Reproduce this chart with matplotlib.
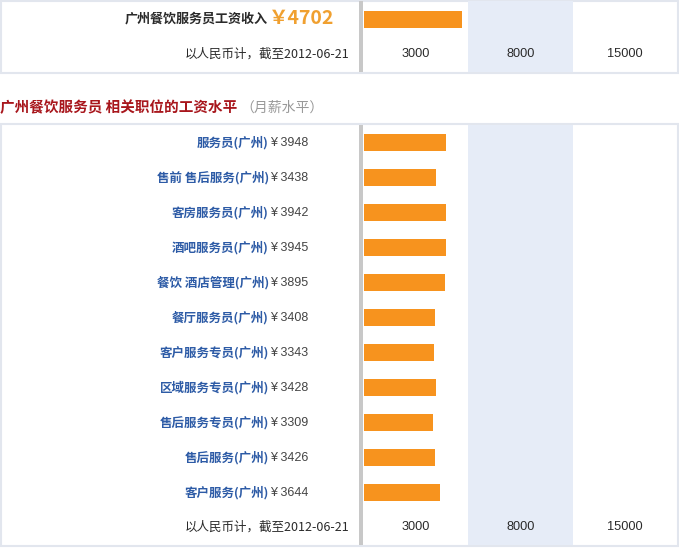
import matplotlib
matplotlib.use("Agg")
import matplotlib.pyplot as plt
from matplotlib.patches import Rectangle
from matplotlib.transforms import blended_transform_factory

plt.rcParams['font.family'] = ['Noto Sans CJK SC', 'DejaVu Sans']

# ---- data ----
main_label = "广州餐饮服务员工资收入"
main_value = 4702
date_note = "以人民币计，截至2012-06-21"
heading = "广州餐饮服务员 相关职位的工资水平"
heading_note = "（月薪水平）"
categories = ["服务员(广州)", "售前 售后服务(广州)", "客房服务员(广州)", "酒吧服务员(广州)",
              "餐饮 酒店管理(广州)", "餐厅服务员(广州)", "客户服务专员(广州)", "区域服务专员(广州)",
              "售后服务专员(广州)", "售后服务(广州)", "客户服务(广州)"]
values = [3948, 3438, 3942, 3945, 3895, 3408, 3343, 3428, 3309, 3426, 3644]
tick_labels = ["3000", "8000", "15000"]
band_edges = [0, 5000, 10000, 15000]

W, H = 679, 549
fig = plt.figure(figsize=(W / 100, H / 100), dpi=100)

ORANGE = "#f7931e"
BLUE = "#2d5ba6"
RED = "#a8161c"
BAND = "#e6ecf7"
BORDER = "#e2e6ee"
SEP = "#c8c8c8"
TXT = "#2a2a2a"


def rect(x0, y0, x1, y1):
    # pixel rect (top-left origin) -> figure fraction
    return [x0 / W, 1 - y1 / H, (x1 - x0) / W, (y1 - y0) / H]


# background axes in pixel coordinates
bg = fig.add_axes([0, 0, 1, 1])
bg.set_xlim(0, W)
bg.set_ylim(H, 0)
bg.axis("off")

# panel borders
bg.add_patch(Rectangle((1, 0.5), 677, 72.5, fill=False, ec=BORDER, lw=1.5))
bg.add_patch(Rectangle((1, 124), 677, 421.5, fill=False, ec=BORDER, lw=1.5))
# separators
bg.add_patch(Rectangle((359, 1), 4, 71, fc=SEP, ec="none"))
bg.add_patch(Rectangle((359, 125), 4, 420, fc=SEP, ec="none"))

X0, X1 = 364, 677


def setup(ax):
    ax.set_xlim(band_edges[0], band_edges[-1])
    ax.axis("off")
    ax.patch.set_alpha(0)
    ax.axvspan(band_edges[1], band_edges[2], color=BAND, zorder=0, lw=0)


# ---- top panel ----
ax1 = fig.add_axes(rect(X0, 1, X1, 72))
setup(ax1)
ax1.set_ylim(72, 1)
ax1.barh([19.5], [main_value], height=17, color=ORANGE, left=0, zorder=2)
for i, t in enumerate(tick_labels):
    cx = (band_edges[i] + band_edges[i + 1]) / 2
    ax1.text(cx, 54, t, ha="center", va="center", fontsize=9.2, color=TXT,
             family="Liberation Sans")

bg.text(268, 18.5, main_label, ha="right", va="center", fontsize=9.4, fontweight="bold", color=TXT)
bg.text(334, 18.5, "￥" + str(main_value), ha="right", va="center", fontsize=14,
        fontweight="bold", color="#f0a030")
bg.text(349, 54, date_note, ha="right", va="center", fontsize=9, color=TXT)

# heading
h = bg.text(0, 107.5, heading, ha="left", va="center", fontsize=10.5, fontweight="bold", color=RED)
bg.annotate(heading_note, xy=(1, 0.5), xycoords=h, xytext=(2, 0),
            textcoords="offset points", ha="left", va="center", fontsize=10, color="#999999")

# ---- bottom panel ----
ax2 = fig.add_axes(rect(X0, 125, X1, 545))
setup(ax2)
row_h = 35
top_off = (142.5 - 125) / row_h
ax2.set_ylim((545 - 142.5) / row_h, -top_off)
ys = list(range(len(categories)))
ax2.barh(ys, values, height=17 / row_h, color=ORANGE, zorder=2)
for i, tl in enumerate(tick_labels):
    cx = (band_edges[i] + band_edges[i + 1]) / 2
    ax2.text(cx, (527 - 142.5) / row_h, tl, ha="center", va="center", fontsize=9.2,
             color=TXT, family="Liberation Sans")

tr = blended_transform_factory(bg.transData, ax2.transData)
for y, c, v in zip(ys, categories, values):
    bg.text(269, y, c, transform=tr, ha="right", va="center", fontsize=9,
            fontweight="bold", color=BLUE)
    bg.text(270, y, "¥ " + str(v), transform=tr, ha="left", va="center", fontsize=9,
            color="#444444", family=["Liberation Sans", "DejaVu Sans"])

bg.text(349, 527, date_note, ha="right", va="center", fontsize=9, color=TXT)

fig.savefig("out.png", dpi=100)
